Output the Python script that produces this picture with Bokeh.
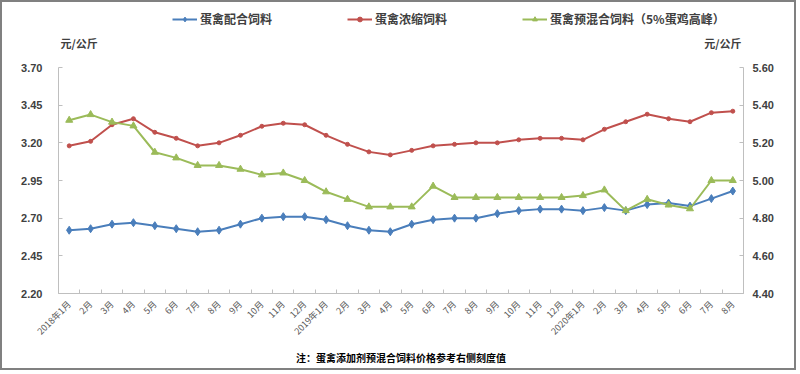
import math
from bokeh.plotting import figure
from bokeh.models import (Range1d, LinearAxis, FixedTicker, Legend, LegendItem,
                          Label, NumeralTickFormatter)
from bokeh.embed import file_html
from bokeh.resources import INLINE

months = ["2018年1月", "2月", "3月", "4月", "5月", "6月", "7月", "8月", "9月", "10月", "11月", "12月",
          "2019年1月", "2月", "3月", "4月", "5月", "6月", "7月", "8月", "9月", "10月", "11月", "12月",
          "2020年1月", "2月", "3月", "4月", "5月", "6月", "7月", "8月"]

compound_feed = [2.62, 2.63, 2.66, 2.67, 2.65, 2.63, 2.61, 2.62, 2.66, 2.70, 2.71, 2.71,
                 2.69, 2.65, 2.62, 2.61, 2.66, 2.69, 2.70, 2.70, 2.73, 2.75, 2.76, 2.76,
                 2.75, 2.77, 2.75, 2.79, 2.80, 2.78, 2.83, 2.88]

concentrate_feed = [3.18, 3.21, 3.32, 3.36, 3.27, 3.23, 3.18, 3.20, 3.25, 3.31, 3.33, 3.32,
                    3.25, 3.19, 3.14, 3.12, 3.15, 3.18, 3.19, 3.20, 3.20, 3.22, 3.23, 3.23,
                    3.22, 3.29, 3.34, 3.39, 3.36, 3.34, 3.40, 3.41]

premix_feed = [5.32, 5.35, 5.31, 5.29, 5.15, 5.12, 5.08, 5.08, 5.06, 5.03, 5.04, 5.00,
               4.94, 4.90, 4.86, 4.86, 4.86, 4.97, 4.91, 4.91, 4.91, 4.91, 4.91, 4.91,
               4.92, 4.95, 4.84, 4.90, 4.87, 4.85, 5.00, 5.00]

series_names = ["蛋禽配合饲料", "蛋禽浓缩饲料", "蛋禽预混合饲料（5%蛋鸡高峰）"]
left_ticks = [2.20, 2.45, 2.70, 2.95, 3.20, 3.45, 3.70]
right_ticks = [4.40, 4.60, 4.80, 5.00, 5.20, 5.40, 5.60]
unit_label = "元/公斤"
note = "注：蛋禽添加剂预混合饲料价格参考右侧刻度值"

x = list(range(len(months)))

AX = "#bfbfbf"
TXT = "#404040"
CJK = "Noto Sans CJK SC"

# layout in pixels: the frame reaches up to the top so the legend can sit inside it;
# the value axes themselves are bounded to their tick range
FRAME_TOP, AXIS_TOP, FRAME_BOTTOM = 4, 67, 293
stretch = (FRAME_BOTTOM - FRAME_TOP) / (FRAME_BOTTOM - AXIS_TOP)
lo_l, hi_l = left_ticks[0], left_ticks[-1]
lo_r, hi_r = right_ticks[0], right_ticks[-1]

p = figure(width=796, height=370, output_backend="svg", toolbar_location=None,
           x_range=Range1d(-0.5, len(months) - 0.5),
           y_range=Range1d(lo_l, lo_l + (hi_l - lo_l) * stretch),
           min_border_left=56, min_border_right=55, min_border_top=FRAME_TOP - 2,
           min_border_bottom=370 - (FRAME_BOTTOM - 2),
           styles={"border": "2px solid #808080"})
p.extra_y_ranges = {"r": Range1d(lo_r, lo_r + (hi_r - lo_r) * stretch)}
p.grid.visible = False
p.outline_line_color = None
p.background_fill_color = "white"
p.border_fill_color = "white"

# x axis (footnote shown as the axis label, centred under the tick labels)
xa = p.xaxis[0]
xa.ticker = FixedTicker(ticks=x, minor_ticks=[i + 0.5 for i in range(-1, len(months))])
xa.major_label_overrides = {i: m for i, m in enumerate(months)}
xa.major_label_orientation = math.pi / 4
xa.major_tick_line_color = None
xa.minor_tick_line_color = AX
xa.minor_tick_in = 4
xa.minor_tick_out = 0
xa.axis_line_color = AX
xa.major_label_text_font = CJK
xa.major_label_text_font_size = "9px"
xa.major_label_text_color = "#595959"
xa.major_label_standoff = 3
xa.axis_label = note
xa.axis_label_text_font = CJK
xa.axis_label_text_font_size = "10px"
xa.axis_label_text_font_style = "bold"
xa.axis_label_text_color = "#000000"
xa.axis_label_standoff = 5

# left y axis
ya = p.yaxis[0]
ya.ticker = FixedTicker(ticks=left_ticks)
ya.bounds = (lo_l, hi_l)
ya.formatter = NumeralTickFormatter(format="0.00")
ya.minor_tick_line_color = None
ya.major_tick_in = 4
ya.major_tick_out = 0
ya.major_tick_line_color = AX
ya.axis_line_color = AX
ya.major_label_text_font = "Liberation Sans"
ya.major_label_text_font_style = "bold"
ya.major_label_text_font_size = "11px"
ya.major_label_text_color = TXT
ya.major_label_standoff = 16

ra = LinearAxis(y_range_name="r", ticker=FixedTicker(ticks=right_ticks),
                bounds=(lo_r, hi_r), formatter=NumeralTickFormatter(format="0.00"))
ra.minor_tick_line_color = None
ra.major_tick_in = 4
ra.major_tick_out = 0
ra.major_tick_line_color = AX
ra.axis_line_color = AX
ra.major_label_text_font = "Liberation Sans"
ra.major_label_text_font_style = "bold"
ra.major_label_text_font_size = "11px"
ra.major_label_text_color = TXT
ra.major_label_standoff = 9
p.add_layout(ra, "right")

BLUE = "#4a7ebb"
RED = "#c0504d"
GREEN = "#9bbb59"

l1 = p.line(x, compound_feed, line_color=BLUE, line_width=2)
m1 = p.scatter(x, compound_feed, marker="diamond", size=8, color=BLUE)
l2 = p.line(x, concentrate_feed, line_color=RED, line_width=2)
m2 = p.scatter(x, concentrate_feed, marker="circle", size=4, color=RED)
l3 = p.line(x, premix_feed, line_color=GREEN, line_width=2, y_range_name="r")
m3 = p.scatter(x, premix_feed, marker="triangle", size=7, color=GREEN, y_range_name="r")

legend = Legend(items=[LegendItem(label=series_names[0], renderers=[l1, m1]),
                       LegendItem(label=series_names[1], renderers=[l2, m2]),
                       LegendItem(label=series_names[2], renderers=[l3, m3])],
                orientation="horizontal", location=(114, 266),
                glyph_width=25, glyph_height=12, label_standoff=3, spacing=75,
                padding=0, margin=0, border_line_color=None, background_fill_alpha=0,
                label_text_font=CJK, label_text_font_size="12px", label_text_color=TXT,
                label_text_font_style="bold")
p.add_layout(legend, "center")

unit_y = FRAME_BOTTOM - 42
p.add_layout(Label(x=2, y=unit_y, x_units="screen", y_units="screen", text=unit_label,
                   text_font=CJK, text_font_size="11px", text_font_style="bold",
                   text_color=TXT, text_baseline="middle", text_align="left"))
p.add_layout(Label(x=683, y=unit_y, x_units="screen", y_units="screen", text=unit_label,
                   text_font=CJK, text_font_size="11px", text_font_style="bold",
                   text_color=TXT, text_baseline="middle", text_align="right"))

open("out.html", "w").write(file_html(p, INLINE))
